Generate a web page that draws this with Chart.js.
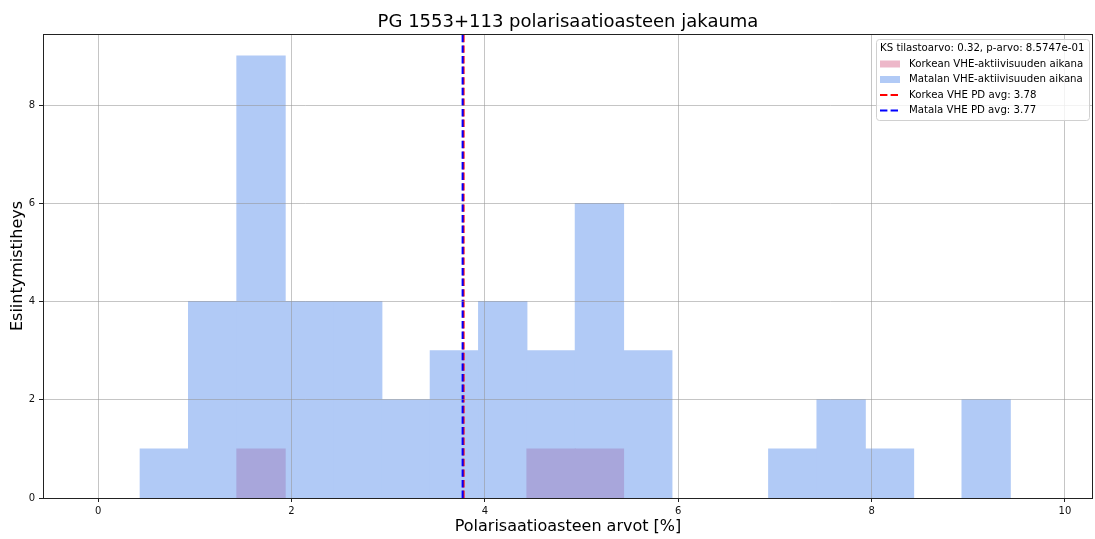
<!DOCTYPE html>
<html lang="fi">
<head>
<meta charset="UTF-8" />
<title>PG 1553+113 polarisaatioasteen jakauma</title>
<script src="https://cdn.jsdelivr.net/npm/chart.js"></script>
<style>
  html, body { margin: 0; padding: 0; background: #fff; }
</style>
</head>
<body>
<canvas id="hist" width="1095" height="539"></canvas>
<script>
  // histogram bins (centres, width 0.5)
  const binCenters = [0.685, 1.185, 1.685, 2.185, 2.685, 3.185, 3.685, 4.185, 4.685,
                      5.185, 5.685, 6.185, 6.685, 7.185, 7.685, 8.185, 8.685, 9.185];
  const highCounts = [0, 0, 1, 0, 0, 0, 0, 0, 1, 1, 0, 0, 0, 0, 0, 0, 0, 0];
  const lowCounts  = [1, 4, 9, 4, 4, 2, 3, 4, 3, 6, 3, 0, 0, 1, 2, 1, 0, 2];
  const highAvg = 3.78;
  const lowAvg = 3.77;
  const ksStat = '0.32';
  const pValue = '8.5747e-01';
  const xTicks = [0, 2, 4, 6, 8, 10];
  const yTicks = [0, 2, 4, 6, 8];
  const xRange = [-0.57, 10.29];
  const yRange = [0, 9.45];

  const FONT = "'DejaVu Sans', sans-serif";
  // flat colours (alpha 0.5 over white) so neighbouring bins don't leave seams
  const BLUE = '#b1caf6';
  const PINK_ON_BLUE = '#a8a6db';

  // empty bins -> null so no hairline gets drawn for them
  const toPoints = counts => binCenters.map((x, i) => ({ x: x, y: counts[i] === 0 ? null : counts[i] }));

  const frameAndText = {
    id: 'frameAndText',
    afterDraw(chart) {
      const { ctx, chartArea: a } = chart;
      ctx.save();
      // axes frame
      ctx.strokeStyle = '#222';
      ctx.lineWidth = 1;
      ctx.strokeRect(Math.round(a.left) + 0.5, Math.round(a.top) + 0.5,
                     Math.round(a.right - a.left) - 1, Math.round(a.bottom - a.top));
      // title
      ctx.fillStyle = '#000';
      ctx.font = '18px ' + FONT;
      ctx.textAlign = 'center';
      ctx.textBaseline = 'middle';
      ctx.fillText('PG 1553+113 polarisaatioasteen jakauma', (a.left + a.right) / 2, 22);

      // legend
      const bx = 876, by = 39, bw = 213, bh = 81;
      ctx.beginPath();
      ctx.roundRect(bx + 0.5, by + 0.5, bw, bh, 3);
      ctx.fillStyle = 'rgba(255,255,255,0.8)';
      ctx.fill();
      ctx.strokeStyle = '#d0d0d0';
      ctx.stroke();

      ctx.font = '10.2px ' + FONT;
      ctx.textAlign = 'left';
      ctx.fillStyle = '#000';
      ctx.fillText('KS tilastoarvo: ' + ksStat + ', p-arvo: ' + pValue, 880, 48);
      const rows = [64, 79.5, 95, 110.5];
      chart.data.datasets.forEach((ds, i) => {
        const y = rows[i];
        if (ds.type === 'line') {
          ctx.strokeStyle = ds.borderColor;
          ctx.lineWidth = 2;
          ctx.setLineDash(ds.borderDash);
          ctx.beginPath();
          ctx.moveTo(880, y);
          ctx.lineTo(900, y);
          ctx.stroke();
          ctx.setLineDash([]);
        } else {
          ctx.fillStyle = ds.legendColor;
          ctx.fillRect(880, y - 3.5, 20, 7);
        }
        ctx.fillStyle = '#000';
        ctx.fillText(ds.label, 909, y);
      });
      ctx.restore();
    }
  };

  const ctx = document.getElementById('hist').getContext('2d');
  const chart = new Chart(ctx, {
    type: 'bar',
    data: {
      datasets: [
        {
          label: 'Korkean VHE-aktiivisuuden aikana',
          data: toPoints(highCounts),
          backgroundColor: PINK_ON_BLUE,
          legendColor: 'rgba(219,112,147,0.5)',
          borderWidth: 0,
          inflateAmount: 0.5,
          barPercentage: 1,
          categoryPercentage: 1,
          grouped: false,
          order: 3
        },
        {
          label: 'Matalan VHE-aktiivisuuden aikana',
          data: toPoints(lowCounts),
          backgroundColor: BLUE,
          legendColor: BLUE,
          borderWidth: 0,
          inflateAmount: 0.5,
          barPercentage: 1,
          categoryPercentage: 1,
          grouped: false,
          order: 4
        },
        {
          type: 'line',
          label: 'Korkea VHE PD avg: ' + highAvg.toFixed(2),
          data: [{ x: highAvg, y: yRange[0] }, { x: highAvg, y: yRange[1] }],
          borderColor: 'red',
          borderWidth: 2,
          borderDash: [7.4, 3.2],
          pointRadius: 0,
          order: 2
        },
        {
          type: 'line',
          label: 'Matala VHE PD avg: ' + lowAvg.toFixed(2),
          data: [{ x: lowAvg, y: yRange[0] }, { x: lowAvg, y: yRange[1] }],
          borderColor: 'blue',
          borderWidth: 2,
          borderDash: [7.4, 3.2],
          pointRadius: 0,
          order: 1
        }
      ]
    },
    options: {
      responsive: false,
      animation: false,
      layout: { padding: { top: 34, right: 2, left: 0, bottom: 0 } },
      plugins: {
        legend: { display: false },
        tooltip: { enabled: false }
      },
      scales: {
        x: {
          type: 'linear',
          min: xRange[0],
          max: xRange[1],
          offset: false,
          afterBuildTicks: s => { s.ticks = xTicks.map(v => ({ value: v })); },
          afterFit: s => { s.height = 41; },
          border: { display: false },
          grid: { z: 1, offset: false, color: 'rgba(150,150,150,0.55)', tickColor: '#222', tickLength: 4 },
          ticks: { font: { family: FONT, size: 10 }, color: '#111', padding: 3, maxRotation: 0 },
          title: {
            display: true,
            text: 'Polarisaatioasteen arvot [%]',
            font: { family: FONT, size: 16 },
            color: '#000',
            padding: { top: 0, bottom: 2.4 }
          }
        },
        y: {
          min: yRange[0],
          max: yRange[1],
          afterBuildTicks: s => { s.ticks = yTicks.map(v => ({ value: v })); },
          afterFit: s => { s.width = 43; },
          border: { display: false },
          grid: { z: 1, color: 'rgba(150,150,150,0.55)', tickColor: '#222', tickLength: 4 },
          ticks: { font: { family: FONT, size: 10 }, color: '#111', padding: 4 },
          title: {
            display: true,
            text: 'Esiintymistiheys',
            font: { family: FONT, size: 16 },
            color: '#000',
            padding: { top: 8.4, bottom: 0 }
          }
        }
      }
    },
    plugins: [frameAndText]
  });
</script>
</body>
</html>
